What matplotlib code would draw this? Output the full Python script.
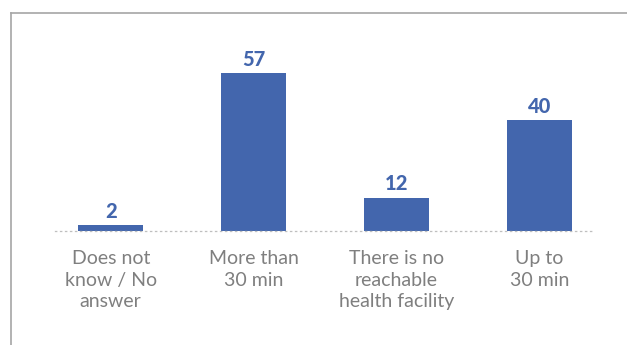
import matplotlib.pyplot as plt
from matplotlib.lines import Line2D

# data
categories = ["Does not\nknow / No\nanswer", "More than\n30 min", "There is no\nreachable\nhealth facility", "Up to\n30 min"]
values = [2, 57, 12, 40]

barColor = '#4366AD'
textGray = '#7F7F7F'

plt.rcParams['font.family'] = ['Lato', 'DejaVu Sans']

fig = plt.figure(figsize=(6.27, 3.45), dpi=100)
ax = fig.add_axes([55 / 627, 1 - 231 / 345, 540 / 627, 166 / 345])

x = list(range(len(categories)))
bars = ax.bar(x, values, width=0.455, color=barColor, zorder=2)
for b, v in zip(bars, values):
    ax.text(b.get_x() + b.get_width() / 2, v + 1.6, str(v), ha='center', va='bottom',
            fontsize=14.5, fontweight='black', color=barColor)

ax.set_xlim(-0.39, 3.39)
ax.set_ylim(0, 60)
ax.set_yticks([])
ax.set_xticks(x)
ax.set_xticklabels(categories, fontsize=14, color=textGray, linespacing=1.32)
ax.tick_params(axis='x', length=0, pad=14)

for s in ['top', 'right', 'left']:
    ax.spines[s].set_visible(False)
ax.spines['bottom'].set_color('#BFBFBF')
ax.spines['bottom'].set_linestyle((0, (1, 3)))
ax.spines['bottom'].set_linewidth(0.9)

# outer frame (only top and left visible in the crop)
frameColor = '#A6A6A6'
fig.add_artist(Line2D([10.5 / 627, 1], [1 - 13 / 345, 1 - 13 / 345], color=frameColor, lw=1.2))
fig.add_artist(Line2D([10.5 / 627, 10.5 / 627], [0, 1 - 13 / 345], color=frameColor, lw=1.2))

fig.savefig('out.png', dpi=100)
